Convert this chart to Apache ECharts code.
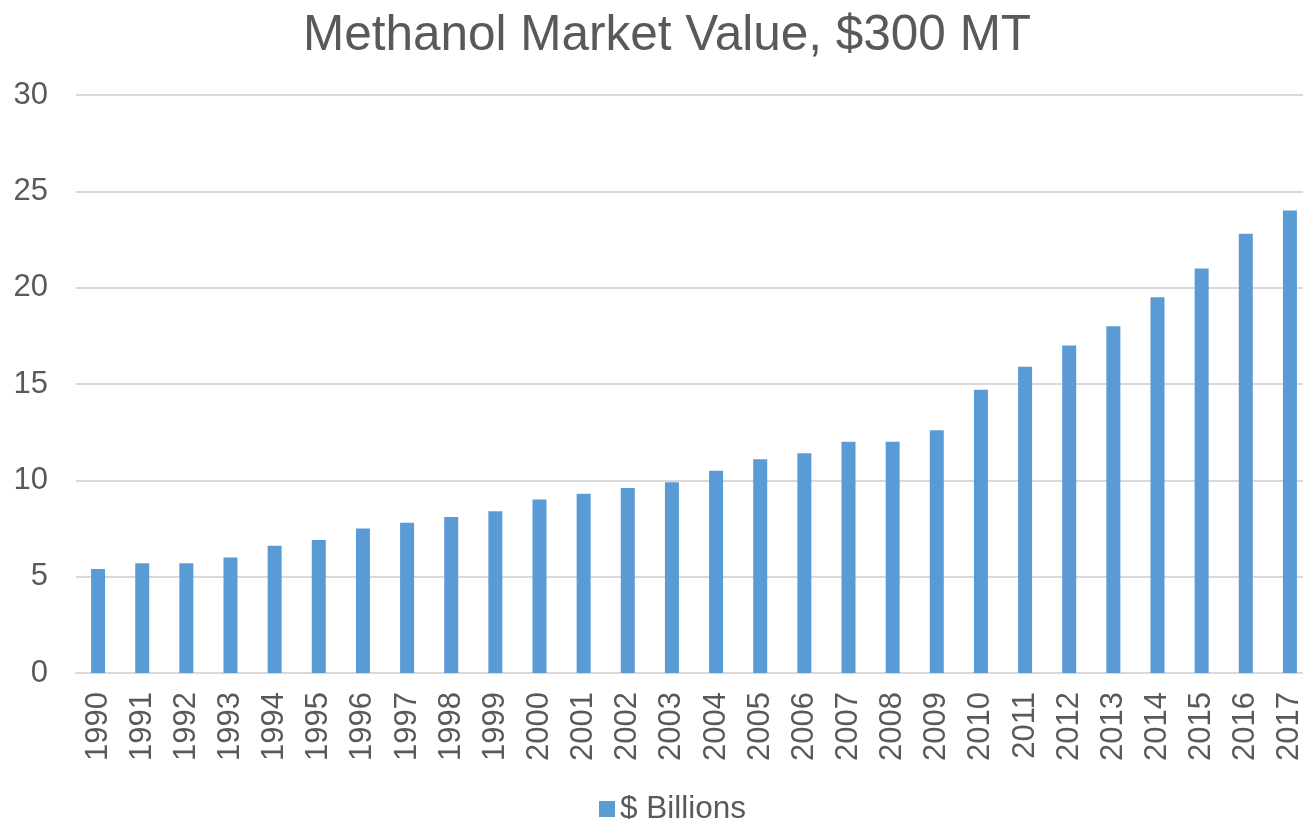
<!DOCTYPE html>
<html>
<head>
<meta charset="utf-8">
<script src="https://cdn.jsdelivr.net/npm/echarts@6/dist/echarts.min.js"></script>
<style>
  html, body { margin: 0; padding: 0; background: #fff; overflow: hidden; }
  #chart { width: 1312px; height: 819px; }
</style>
</head>
<body>
<div id="chart"></div>
<script>
var years = ['1990','1991','1992','1993','1994','1995','1996','1997','1998','1999',
    '2000','2001','2002','2003','2004','2005','2006','2007','2008','2009',
    '2010','2011','2012','2013','2014','2015','2016','2017'];
var billions = [5.4, 5.7, 5.7, 6.0, 6.6, 6.9, 7.5, 7.8, 8.1, 8.4,
    9.0, 9.3, 9.6, 9.9, 10.5, 11.1, 11.4, 12.0, 12.0, 12.6,
    14.7, 15.9, 17.0, 18.0, 19.5, 21.0, 22.8, 24.0];
var yTicks = [0, 5, 10, 15, 20, 25, 30];

// chart is a bit wider than the window: the plot area runs past the right edge
var chart = echarts.init(document.getElementById('chart'));
var font = 'Liberation Sans, Arial, sans-serif';
chart.setOption({
    animation: false,
    title: {
        text: 'Methanol Market Value, $300 MT',
        left: 662,
        textAlign: 'center',
        top: 6,
        textStyle: { fontFamily: font, fontSize: 49.5, fontWeight: 'normal', color: '#595959' }
    },
    legend: {
        top: 788,
        left: 594,
        itemWidth: 16,
        itemHeight: 16,
        itemGap: 6,
        icon: 'rect',
        textStyle: { fontFamily: font, fontSize: 31.5, color: '#595959' },
        data: ['$ Billions']
    },
    grid: { left: 76, top: 95, right: 0, bottom: 146, containLabel: false },
    xAxis: {
        type: 'category',
        data: years,
        axisLine: { lineStyle: { color: '#d9d9d9', width: 2 } },
        axisTick: { show: false },
        axisLabel: { rotate: 90, fontFamily: font, fontSize: 31, color: '#595959', margin: 19, interval: 0 }
    },
    yAxis: {
        type: 'value',
        min: yTicks[0],
        max: yTicks[yTicks.length - 1],
        interval: 5,
        axisLine: { show: false },
        axisTick: { show: false },
        splitLine: { lineStyle: { color: '#d9d9d9', width: 2 } },
        axisLabel: { fontFamily: font, fontSize: 31, color: '#595959', margin: 28 }
    },
    series: [{
        name: '$ Billions',
        type: 'bar',
        data: billions,
        barWidth: 14,
        itemStyle: { color: '#5b9bd5' }
    }]
});
</script>
</body>
</html>
